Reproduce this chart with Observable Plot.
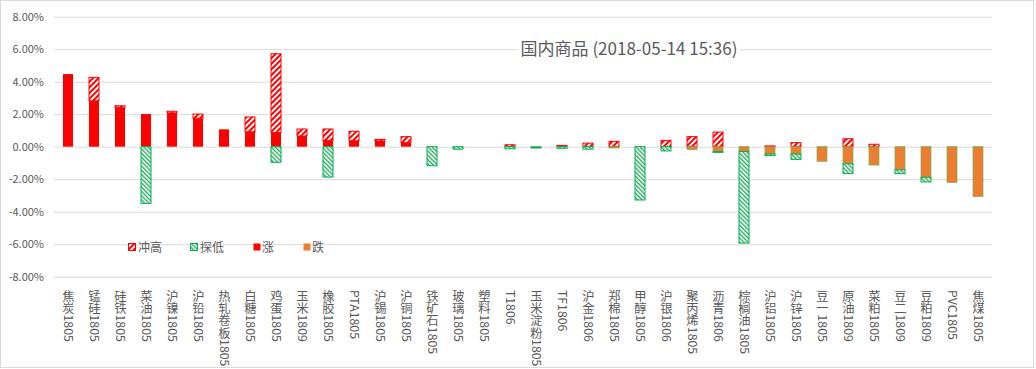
<!DOCTYPE html>
<html><head><meta charset="utf-8">
<script src="https://cdn.jsdelivr.net/npm/d3@7"></script>
<script src="https://cdn.jsdelivr.net/npm/@observablehq/plot@0.6"></script>
<style>
body{margin:0;background:#fff;}
#wrap{position:relative;width:1036px;height:369px;overflow:hidden;font-family:"Noto Sans CJK SC","Noto Sans",sans-serif;color:#595959;}
#wrap svg.plot, #wrap > svg{position:absolute;left:0;top:0;}
#frame{position:absolute;left:0;top:0;width:1032px;height:366px;border:1px solid #d9d9d9;pointer-events:none;}
#title{position:absolute;left:629px;top:38px;transform:translateX(-50%);font-size:17px;line-height:20px;background:#fff;padding:0 2px;white-space:nowrap;}
.lg{position:absolute;font-size:12px;line-height:14px;white-space:nowrap;}
.sw{position:absolute;width:8px;height:8px;}
</style></head>
<body>
<div id="wrap"></div>
<script>
const categories = ["焦炭1805","锰硅1805","硅铁1805","菜油1805","沪镍1805","沪铅1805","热轧卷板1805","白糖1805","鸡蛋1805","玉米1809","橡胶1805","PTA1805","沪锡1805","沪铜1805","铁矿石1805","玻璃1805","塑料1805","T1806","玉米淀粉1805","TF1806","沪金1806","郑棉1805","甲醇1805","沪银1806","聚丙烯1805","沥青1806","棕榈油1805","沪铝1805","沪锌1805","豆一1805","原油1809","菜粕1805","豆二1809","豆粕1809","PVC1805","焦煤1805"];
// 涨 (close change, positive)
const up   = [4.47,2.83,2.42,2.01,2.08,1.75,1.07,0.92,0.87,0.66,0.39,0.37,0.35,0.25,0,0,0,0,0,0,0,0,0,0,0,0,0,0,0,0,0,0,0,0,0,0];
// 冲高 (high above close)
const high = [0,1.44,0.10,0,0.10,0.26,0,0.91,4.85,0.43,0.70,0.58,0.10,0.37,0,0,0,0.12,0,0.08,0.22,0.33,0,0.39,0.62,0.90,0,0.05,0.25,0,0.49,0.15,0,0,0,0];
// 跌 (close change, negative)
const down = [0,0,0,0,0,0,0,0,0,0,0,0,0,0,0,0,0,0,-0.03,0,0,-0.08,0,0,-0.18,-0.30,-0.29,-0.45,-0.45,-0.90,-1.05,-1.13,-1.42,-1.88,-2.20,-3.06];
// 探低 (low below)
const low  = [0,0,0,-3.49,0,0,0,0,-0.96,0,-1.87,0,0,0,-1.17,-0.15,0,-0.13,-0.05,-0.10,-0.15,0,-3.28,-0.26,0,-0.05,-5.64,-0.10,-0.33,0,-0.61,0,-0.24,-0.29,0,0];
const seriesNames = ["冲高","探低","涨","跌"];
const yTicks = [8,6,4,2,0,-2,-4,-6,-8];
const titleText = "国内商品 (2018-05-14 15:36)";

const RED = "#ff0000", ORANGE = "#ed7d31", GREEN = "#00b050";
const rows = [];
categories.forEach((c, i) => {
  rows.push({cat: c, key: "涨", v: up[i]}, {cat: c, key: "冲高", v: high[i]},
            {cat: c, key: "跌", v: down[i]}, {cat: c, key: "探低", v: low[i]});
});
const data = rows.filter(d => d.v !== 0);

const chart = Plot.plot({
  width: 1036, height: 369,
  marginTop: 16.7, marginBottom: 92.3, marginLeft: 54, marginRight: 44,
  style: {fontFamily: '"Noto Sans CJK SC","Noto Sans",sans-serif', color: "#595959", background: "transparent", overflow: "visible"},
  x: {domain: categories, paddingInner: 0.6, paddingOuter: 0.3, axis: null, label: null},
  y: {domain: [-8, 8], axis: null, label: null},
  color: {domain: seriesNames, range: ["url(#hatchRed)", "url(#hatchGreen)", RED, ORANGE]},
  marks: [
    Plot.gridY(yTicks, {stroke: "#d9d9d9", strokeOpacity: 1}),
    Plot.axisY(yTicks, {tickSize: 0, tickPadding: 10.5, tickFormat: d => d.toFixed(2) + "%", fontSize: 11, fill: "#595959", label: null}),
    Plot.barY(data, Plot.stackY({x: "cat", y: "v", fill: "key", z: "key", order: ["涨", "跌", "冲高", "探低"]})),
    Plot.axisX({tickSize: 0, tickPadding: 4, fontSize: 12.3, fill: "#595959", label: null})
  ]
});

// patterns
const ns = "http://www.w3.org/2000/svg";
const defs = document.createElementNS(ns, "defs");
defs.innerHTML = `
<pattern id="hatchRed" patternUnits="userSpaceOnUse" width="4" height="4" patternTransform="rotate(45)">
  <rect width="4" height="4" fill="#ffffff"/><rect width="2" height="4" fill="${RED}"/>
</pattern>
<pattern id="hatchGreen" patternUnits="userSpaceOnUse" width="3" height="3" patternTransform="rotate(-45)">
  <rect width="3" height="3" fill="#ffffff"/><rect width="1.4" height="3" fill="#2aa860"/>
</pattern>`;
chart.insertBefore(defs, chart.firstChild);

// bar outlines
chart.querySelectorAll("rect").forEach(r => {
  const f = r.getAttribute("fill");
  if (f === "url(#hatchRed)") { r.setAttribute("stroke", RED); r.setAttribute("stroke-width", 1); }
  else if (f === "url(#hatchGreen)") { r.setAttribute("stroke", GREEN); r.setAttribute("stroke-width", 1); }
  else if (f === ORANGE) { r.setAttribute("stroke", "#6fae55"); r.setAttribute("stroke-width", 0.7); }
});

// vertical x labels
const xg = chart.querySelector('[aria-label="x-axis tick label"]');
if (xg) {
  xg.setAttribute("text-anchor", "start");
  xg.querySelectorAll("text").forEach(t => {
    t.setAttribute("writing-mode", "vertical-rl");
    t.setAttribute("text-anchor", "start");
    t.removeAttribute("dy");
  });
}

const wrap = document.getElementById("wrap");
wrap.appendChild(chart);

const title = document.createElement("div");
title.id = "title"; title.textContent = titleText;
wrap.appendChild(title);

// legend
const legendPos = [[128, 138], [190, 200], [253, 262], [303, 312]];
const swFill = {"冲高": "url(#hatchRed)", "探低": "url(#hatchGreen)", "涨": RED, "跌": ORANGE};
const swStroke = {"冲高": RED, "探低": GREEN, "涨": "none", "跌": "none"};
seriesNames.forEach((n, i) => {
  const s = document.createElementNS(ns, "svg");
  s.setAttribute("class", "sw");
  s.setAttribute("width", 8); s.setAttribute("height", 8);
  s.style.left = legendPos[i][0] + "px"; s.style.top = "243px";
  s.innerHTML = `<rect x="0.5" y="0.5" width="7" height="7" fill="${swFill[n]}" stroke="${swStroke[n]}" stroke-width="1"/>`;
  wrap.appendChild(s);
  const t = document.createElement("div");
  t.className = "lg"; t.textContent = n;
  t.style.left = legendPos[i][1] + "px"; t.style.top = "239.5px";
  wrap.appendChild(t);
});

const frame = document.createElement("div");
frame.id = "frame";
wrap.appendChild(frame);
</script>
</body></html>
